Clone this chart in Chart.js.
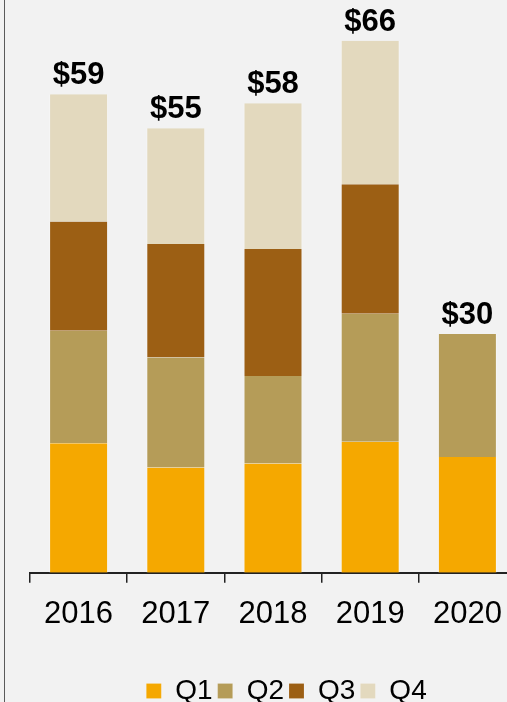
<!DOCTYPE html>
<html>
<head>
<meta charset="utf-8">
<title>Quarterly revenue</title>
<script src="https://cdn.jsdelivr.net/npm/chart.js@4.4.1/dist/chart.umd.min.js"></script>
<style>
  html, body { margin: 0; padding: 0; background: #f2f2f2; overflow: hidden; }
  body { width: 507px; height: 702px; position: relative; }
  #chart { position: absolute; left: 0; top: 0; }
  .edge { position: absolute; left: 4px; top: 0; width: 1px; height: 702px; background: #5a5a5a; }
</style>
</head>
<body>
<canvas id="chart" width="543" height="715"></canvas>
<div class="edge"></div>
<script>
const years = ['2016', '2017', '2018', '2019', '2020']
const quarters = ['Q1', 'Q2', 'Q3', 'Q4']
const q1 = [16.0, 13.0, 13.5, 16.2, 14.3]
const q2 = [13.9, 13.6, 10.8, 15.8, 15.2]
const q3 = [13.5, 14.0, 15.7, 16.0, null]
const q4 = [15.7, 14.3, 18.0, 17.7, null]
const colors = ['#f5a800', '#b59c58', '#9c5f14', '#e3d9be']

const font = "'Liberation Sans', Arial, sans-serif"

// sum each year's stack and write "$NN" above it
const totalLabels = {
  id: 'totalLabels',
  afterDatasetsDraw (chart) {
    const { ctx } = chart
    const yScale = chart.scales.y
    ctx.save()
    ctx.font = `bold 31px ${font}`
    ctx.fillStyle = '#000'
    ctx.textAlign = 'center'
    ctx.textBaseline = 'alphabetic'
    years.forEach((yr, i) => {
      const total = [q1, q2, q3, q4].reduce((s, arr) => s + (arr[i] || 0), 0)
      const bar = chart.getDatasetMeta(0).data[i]
      ctx.fillText('$' + Math.round(total), bar.x, yScale.getPixelForValue(total) - 10)
    })
    ctx.restore()
  }
}

new Chart(document.getElementById('chart'), {
  type: 'bar',
  data: {
    labels: years,
    datasets: [q1, q2, q3, q4].map((values, i) => ({
      label: quarters[i],
      data: values,
      backgroundColor: colors[i],
      borderColor: 'rgba(255, 255, 255, 0.3)',
      borderWidth: { left: 1, right: 1, top: 0, bottom: 0 },
      borderSkipped: false,
      categoryPercentage: 1,
      barPercentage: 0.607
    }))
  },
  options: {
    responsive: false,
    animation: false,
    layout: { padding: { top: 6, left: 30, right: 0, bottom: 0 } },
    plugins: {
      tooltip: { enabled: false },
      legend: {
        position: 'bottom',
        labels: {
          color: '#000',
          font: { family: font, size: 28 },
          boxWidth: 15,
          boxHeight: 15,
          padding: 5
        }
      }
    },
    scales: {
      x: {
        stacked: true,
        grid: {
          display: true,
          drawOnChartArea: false,
          drawTicks: true,
          tickLength: 10,
          color: '#222',
          lineWidth: 1.5
        },
        border: { display: true, color: '#222', width: 2 },
        ticks: {
          color: '#000',
          font: { family: font, size: 31 },
          padding: 13,
          maxRotation: 0
        },
        afterFit (scale) { scale.height += 26 }
      },
      y: {
        stacked: true,
        position: 'right',
        min: 0,
        max: 70,
        grid: { display: false },
        border: { display: false },
        ticks: { display: false },
        afterFit (scale) { scale.width = 27 }
      }
    }
  },
  plugins: [totalLabels]
})
</script>
</body>
</html>
